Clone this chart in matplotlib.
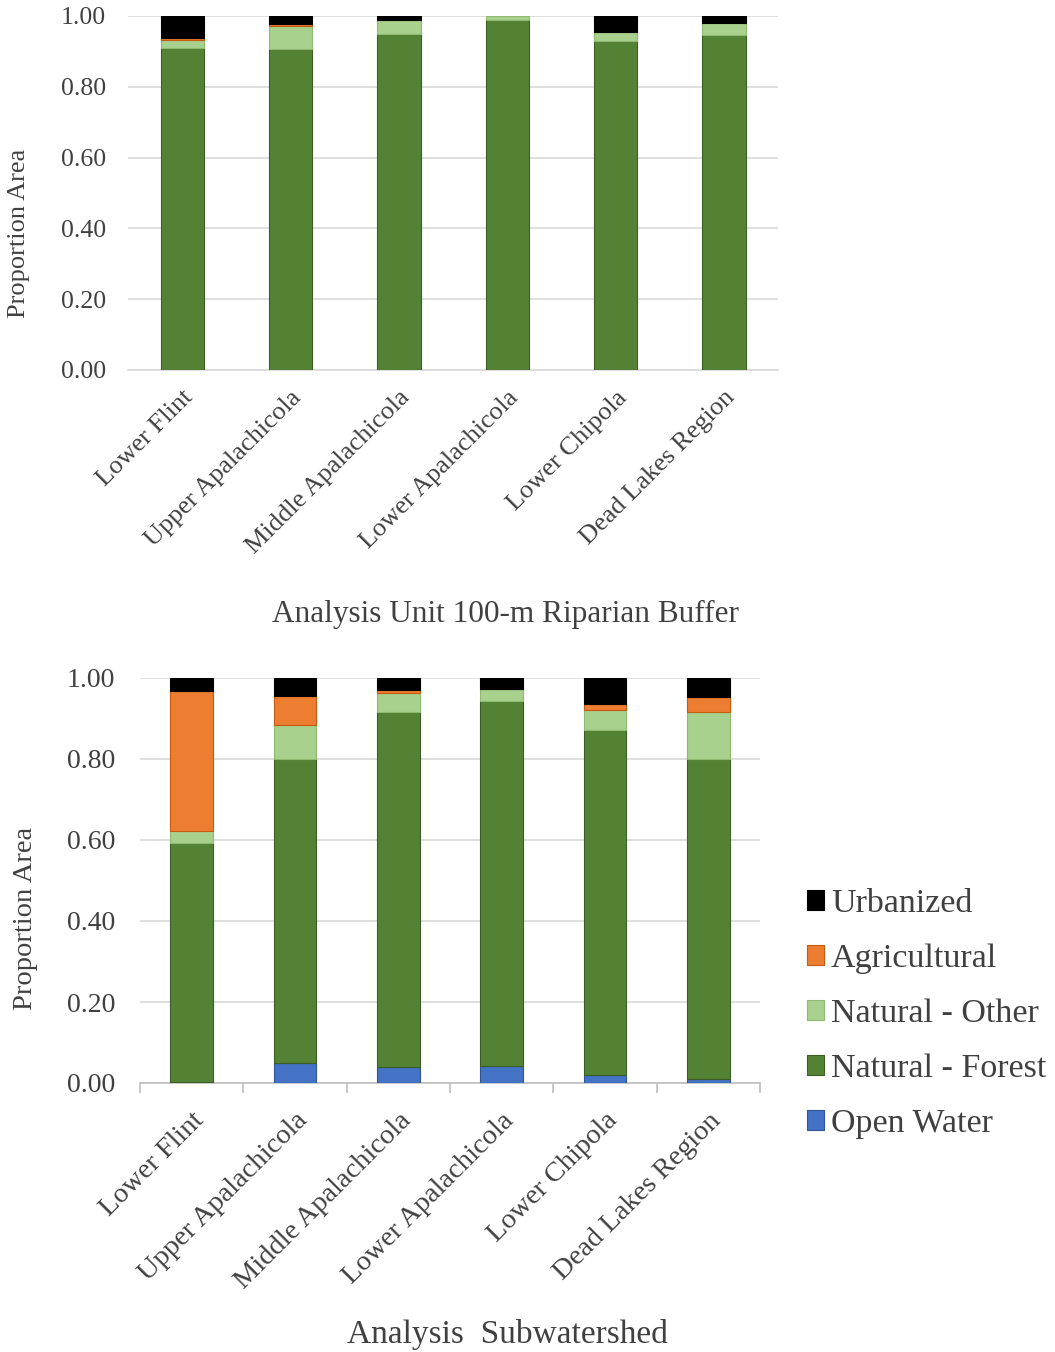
import numpy as np
import matplotlib
matplotlib.use("Agg")
import matplotlib.pyplot as plt
from matplotlib.patches import Patch

plt.rcParams["font.family"] = ["Liberation Serif", "DejaVu Serif"]

# Subwatershed names (same order in both panels)
units = ["Lower Flint", "Upper Apalachicola", "Middle Apalachicola",
         "Lower Apalachicola", "Lower Chipola", "Dead Lakes Region"]

# Land-cover proportions, 100-m riparian buffer
buf_water = [0.0, 0.0, 0.0, 0.0, 0.0, 0.0]
buf_forest = [0.911, 0.908, 0.948, 0.988, 0.930, 0.947]
buf_other = [0.022, 0.065, 0.040, 0.012, 0.025, 0.032]
buf_ag = [0.006, 0.003, 0.000, 0.000, 0.000, 0.000]
buf_urban = [0.061, 0.024, 0.012, 0.000, 0.045, 0.021]

# Land-cover proportions, whole subwatershed
sub_water = [0.003, 0.049, 0.039, 0.043, 0.019, 0.011]
sub_forest = [0.589, 0.751, 0.877, 0.900, 0.852, 0.789]
sub_other = [0.030, 0.085, 0.047, 0.031, 0.051, 0.116]
sub_ag = [0.347, 0.070, 0.007, 0.000, 0.014, 0.037]
sub_urban = [0.031, 0.045, 0.030, 0.026, 0.064, 0.047]

series_names = ["Open Water", "Natural - Forest", "Natural - Other",
                "Agricultural", "Urbanized"]
colors = ["#4472C4", "#548235", "#A9D18E", "#ED7D31", "#000000"]
edges = ["#2F5597", "#3B5E25", "#8DBA6E", "#C55A11", "#000000"]

y_ticks = [0.0, 0.2, 0.4, 0.6, 0.8, 1.0]
text_color = "#404040"
grid_color = "#D9D9D9"

W, H = 1055, 1352
fig = plt.figure(figsize=(W / 100, H / 100), dpi=100)


def stacked(ax, layers, width):
    x = np.arange(len(units))
    bottom = np.zeros(len(units))
    for vals, c, e in zip(layers, colors, edges):
        vals = np.asarray(vals, dtype=float)
        keep = vals > 0
        if keep.any():
            ax.bar(x[keep], vals[keep], width=width, bottom=bottom[keep],
                   color=c, edgecolor=e, linewidth=0.8, zorder=3)
        bottom += vals
    ax.set_xlim(-0.5, len(units) - 0.5)
    ax.set_ylim(0, 1.0)
    ax.set_yticks(y_ticks)
    ax.set_yticklabels([f"{v:.2f}" for v in y_ticks])
    ax.yaxis.grid(True, color=grid_color, linewidth=1.2, zorder=0)
    ax.set_axisbelow(True)
    for s in ["top", "right", "left"]:
        ax.spines[s].set_visible(False)
    ax.set_xticks(x)
    return x


# Upper panel: riparian buffer
ax1 = fig.add_axes([128 / W, 1 - 370 / H, 650 / W, 354 / H])
stacked(ax1, [buf_water, buf_forest, buf_other, buf_ag, buf_urban], 0.40)
ax1.spines["bottom"].set_color(grid_color)
ax1.spines["bottom"].set_linewidth(1.2)
ax1.tick_params(axis="y", length=0, pad=16, labelsize=18.5, labelcolor=text_color)
ax1.tick_params(axis="x", length=0, pad=12, labelsize=19, labelcolor=text_color)
ax1.set_xticklabels(units, rotation=45, ha="right", rotation_mode="anchor")

# Lower panel: subwatershed
ax2 = fig.add_axes([140 / W, 1 - 1083 / H, 620 / W, 405 / H])
stacked(ax2, [sub_water, sub_forest, sub_other, sub_ag, sub_urban], 0.41)
ax2.spines["bottom"].set_color("#BFBFBF")
ax2.spines["bottom"].set_linewidth(1.2)
ax2.set_xticks(np.arange(-0.5, len(units)), minor=True)
ax2.tick_params(axis="x", which="minor", length=7, width=1.2, color="#BFBFBF",
                direction="out")
ax2.tick_params(axis="y", length=0, pad=18, labelsize=20, labelcolor=text_color)
ax2.tick_params(axis="x", which="major", length=0, pad=18, labelsize=20.5,
                labelcolor=text_color)
ax2.set_xticklabels(units, rotation=45, ha="right", rotation_mode="anchor")

# Axis titles
fig.text(19 / W, 1 - 233 / H, "Proportion Area", rotation=90,
         ha="center", va="center", fontsize=19, color=text_color)
fig.text(26 / W, 1 - 918 / H, "Proportion Area", rotation=90,
         ha="center", va="center", fontsize=20.5, color=text_color)
fig.text(505 / W, 1 - 614 / H, "Analysis Unit 100-m Riparian Buffer",
         ha="center", va="center", fontsize=22.5, color=text_color)
fig.text(507 / W, 1 - 1335 / H, "Analysis  Subwatershed",
         ha="center", va="center", fontsize=24, color=text_color)

# Legend, top layer first
handles = [Patch(facecolor=c, edgecolor=e, linewidth=0.8)
           for c, e in zip(colors, edges)][::-1]
fig.legend(handles, series_names[::-1], loc="center left",
           bbox_to_anchor=(807 / W, 1 - 1014 / H), frameon=False,
           fontsize=24.5, handlelength=0.5, handleheight=0.5,
           handletextpad=0.2, labelspacing=0.72, labelcolor=text_color,
           borderpad=0, borderaxespad=0)

fig.savefig("out.png", dpi=100, facecolor="white")
